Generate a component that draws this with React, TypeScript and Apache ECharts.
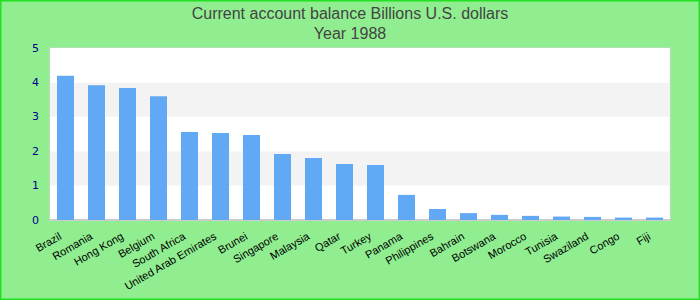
import React, { useEffect, useRef } from "react";
import * as echarts from "echarts";

const titleLines = ["Current account balance Billions U.S. dollars", "Year 1988"];
const countries = [
  "Brazil", "Romania", "Hong Kong", "Belgium", "South Africa", "United Arab Emirates",
  "Brunei", "Singapore", "Malaysia", "Qatar", "Turkey", "Panama", "Philippines",
  "Bahrain", "Botswana", "Morocco", "Tunisia", "Swaziland", "Congo", "Fiji",
];
const balances = [
  4.19, 3.92, 3.84, 3.6, 2.56, 2.53, 2.47, 1.92, 1.8, 1.63, 1.6, 0.73, 0.32,
  0.2, 0.15, 0.12, 0.1, 0.09, 0.07, 0.07,
];
const yMin = 0;
const yMax = 5;
const yStep = 1;

export default function App() {
  const ref = useRef<HTMLDivElement>(null);
  useEffect(() => {
    document.body.style.margin = "0";
    if (!ref.current) return;
    const chart = echarts.init(ref.current, null, { renderer: "svg" });
    chart.setOption({
      animation: false,
      backgroundColor: "#90ee90",
      title: {
        text: titleLines.join("\n"),
        left: "center",
        top: 3,
        padding: 0,
        textStyle: {
          fontFamily: "Liberation Sans",
          fontSize: 16,
          fontWeight: "normal",
          color: "#444444",
          lineHeight: 20,
        },
      },
      graphic: [
        {
          type: "rect",
          shape: { x: 0, y: 0, width: 700, height: 300 },
          style: { fill: "none", stroke: "#22e022", lineWidth: 3 },
          z: 100,
        },
      ],
      grid: {
        left: 50,
        right: 30,
        top: 48,
        bottom: 80,
        show: true,
        backgroundColor: "#ffffff",
        borderColor: "#d4d4d4",
        borderWidth: 1,
      },
      xAxis: {
        type: "category",
        data: countries,
        axisLine: { show: true, lineStyle: { color: "#cccccc", width: 2 } },
        axisTick: { show: false },
        axisLabel: {
          rotate: 30,
          interval: 0,
          margin: 12,
          padding: [0, 6, 0, 0],
          fontFamily: "Liberation Sans",
          fontSize: 11,
          color: "#000000",
        },
      },
      yAxis: {
        type: "value",
        min: yMin,
        max: yMax,
        interval: yStep,
        axisLine: { show: false },
        axisTick: { show: false },
        splitLine: { show: false },
        splitArea: { show: true, areaStyle: { color: ["#ffffff", "#f3f3f3"] } },
        axisLabel: {
          margin: 11,
          fontFamily: "DejaVu Sans",
          fontSize: 11,
          color: "#00008b",
        },
      },
      series: [
        {
          type: "bar",
          data: balances,
          barWidth: 17,
          itemStyle: { color: "#62a9f5" },
        },
      ],
    });
    return () => chart.dispose();
  }, []);
  return <div ref={ref} style={{ width: 700, height: 300 }} />;
}
